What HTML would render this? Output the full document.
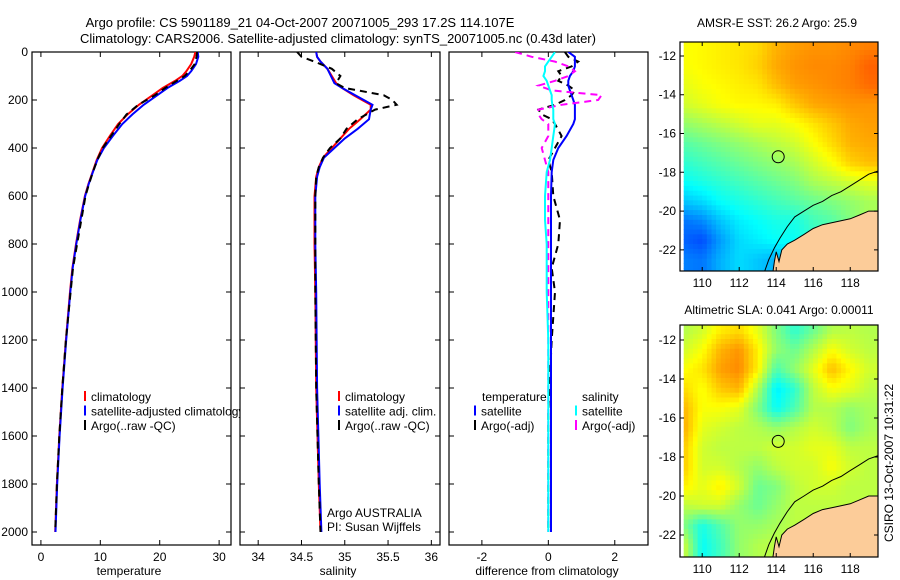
<!DOCTYPE html>
<html><head><meta charset="utf-8"><style>
body{margin:0;background:#fff}
svg{display:block;font-family:"Liberation Sans",sans-serif}
</style></head><body>
<svg id="fig" width="900" height="580" viewBox="0 0 900 580" xmlns="http://www.w3.org/2000/svg">
<defs>
<clipPath id="c1"><rect x="32" y="52" width="199" height="493"/></clipPath>
<clipPath id="c2"><rect x="240" y="52" width="200" height="493"/></clipPath>
<clipPath id="c3"><rect x="449" y="52" width="199" height="493"/></clipPath>
<clipPath id="m1"><rect x="680" y="42" width="198" height="229"/></clipPath>
<clipPath id="m2"><rect x="680" y="325" width="198" height="232"/></clipPath>
</defs>
<text x="300" y="27" font-size="13" text-anchor="middle">Argo profile: CS 5901189_21 04-Oct-2007 20071005_293 17.2S 114.107E</text>
<text x="338" y="43" font-size="13" text-anchor="middle">Climatology: CARS2006. Satellite-adjusted climatology: synTS_20071005.nc (0.43d later)</text>
<g id="g1"></g>
<g id="g2"></g>
<g id="g3"></g>
<g id="map1"></g>
<g id="map2"></g>
<text x="777" y="27" font-size="12" text-anchor="middle">AMSR-E SST: 26.2 Argo: 25.9</text>
<text x="779" y="314" font-size="12" text-anchor="middle">Altimetric SLA: 0.041 Argo: 0.00011</text>
<text x="0" y="0" font-size="12" text-anchor="middle" transform="translate(893,463) rotate(-90)">CSIRO 13-Oct-2007 10:31:22</text>
<text x="327" y="517" font-size="12">Argo AUSTRALIA</text>
<text x="327" y="531" font-size="12">PI: Susan Wijffels</text>
</svg>
<script>
const depthT=[0,20,50,80,100,120,150,180,220,260,300,350,400,450,500,550,600,700,800,900,1000,1200,1400,1600,1800,2000];
const tempClim=[26.0,25.8,25.3,24.5,23.8,22.6,20.5,18.8,16.5,14.6,13.0,11.6,10.3,9.4,8.7,8.0,7.4,6.6,5.9,5.3,4.9,4.2,3.6,3.1,2.7,2.4];
const tempSat=[26.4,26.5,26.1,25.3,24.6,23.4,21.3,19.6,17.3,15.4,13.7,12.1,10.6,9.5,8.75,8.05,7.45,6.65,5.95,5.35,4.95,4.25,3.65,3.15,2.75,2.45];
const tempArgo=[26.3,26.2,25.9,25.0,24.2,22.9,20.9,19.2,16.4,14.4,13.2,11.8,10.4,9.5,8.75,8.1,7.5,6.8,6.1,5.4,5.0,4.2,3.6,3.1,2.7,2.4];
const depthS=[0,20,40,70,100,130,150,180,200,220,240,280,320,360,400,440,480,520,600,800,1000,1400,1800,2000];
const salClim=[34.67,34.68,34.72,34.8,34.85,34.9,34.97,35.1,35.2,35.3,35.3,35.18,35.05,34.95,34.85,34.75,34.7,34.67,34.65,34.65,34.66,34.67,34.7,34.72];
const salSat=[34.67,34.68,34.72,34.8,34.84,34.88,34.97,35.12,35.22,35.32,35.3,35.28,35.15,35.0,34.88,34.76,34.71,34.68,34.66,34.66,34.67,34.68,34.71,34.73];
const salArgo=[34.45,34.5,34.65,34.85,34.95,34.9,35.0,35.45,35.55,35.6,35.35,35.15,35.02,34.95,34.83,34.75,34.7,34.67,34.66,34.66,34.66,34.67,34.7,34.72];
const depthD=[0,20,40,60,80,100,120,140,160,180,200,220,240,260,280,300,350,400,450,500,600,700,800,900,1000,1200,1500,2000];
const dTsat=[0.6,0.8,0.8,0.8,0.75,0.65,0.6,0.6,0.65,0.7,0.75,0.8,0.8,0.8,0.8,0.75,0.55,0.3,0.15,0.1,0.08,0.08,0.08,0.08,0.08,0.08,0.08,0.08];
const dTargo=[0.5,0.6,0.9,0.7,0.3,0.4,0.3,0.6,0.8,0.7,0.5,0.2,-0.3,-0.2,0.1,0.2,0.4,0.2,0.0,0.1,0.15,0.35,0.3,0.1,0.2,0.1,0.0,0.0];
const dSsat=[0.2,0.1,0.0,-0.1,-0.1,-0.15,-0.05,0.0,0.05,0.1,0.1,0.12,0.15,0.15,0.15,0.2,0.15,0.1,0.05,-0.05,-0.1,-0.1,-0.05,-0.05,-0.05,0.0,0.0,0.0];
const dSargo=[-1.0,-0.5,0.2,0.6,0.8,0.6,0.2,-0.3,0.1,1.6,1.5,0.4,-0.3,-0.3,-0.2,0.0,0.0,-0.2,-0.1,0.0,0,0,0,0,0,0,0,0];
const depthTicks=[0,200,400,600,800,1000,1200,1400,1600,1800,2000];
const tempTicks=[0,10,20,30];
const salTicks=[34,34.5,35,35.5,36];
const diffTicks=[-2,0,2];
const lonTicks=[110,112,114,116,118];
const latTicks=[-12,-14,-16,-18,-20,-22];
const gridLon=[109,110,111,112,113,114,115,116,117,118,119];
const gridLat=[-11.5,-12.5,-13.5,-14.5,-15.5,-16.5,-17.5,-18.5,-19.5,-20.5,-21.5,-22.5];
const sstGrid=[
[.62,.63,.64,.65,.66,.70,.72,.73,.73,.74,.75],
[.62,.63,.64,.65,.67,.71,.73,.74,.74,.75,.78],
[.60,.62,.63,.64,.65,.69,.72,.73,.74,.75,.77],
[.58,.60,.62,.63,.63,.64,.68,.71,.72,.73,.73],
[.52,.54,.56,.58,.60,.60,.62,.65,.68,.71,.72],
[.46,.48,.50,.52,.54,.56,.58,.62,.66,.70,.71],
[.42,.44,.46,.48,.50,.52,.54,.58,.62,.67,.69],
[.38,.40,.42,.44,.46,.48,.50,.54,.56,.58,.60],
[.32,.34,.38,.40,.42,.44,.46,.48,.50,.52,.54],
[.24,.26,.32,.36,.38,.40,.40,.44,.46,.50,.54],
[.22,.20,.28,.34,.36,.38,.38,.42,.44,.46,.50],
[.25,.24,.30,.34,.32,.30,.36,.40,.42,.44,.46]];
const slaGrid=[
[.55,.58,.64,.66,.60,.50,.42,.48,.55,.56,.55],
[.58,.62,.70,.73,.64,.52,.48,.55,.62,.58,.56],
[.62,.65,.72,.74,.64,.45,.52,.60,.69,.63,.58],
[.66,.62,.68,.70,.55,.36,.42,.56,.62,.60,.56],
[.70,.62,.62,.60,.50,.38,.45,.55,.55,.52,.54],
[.71,.60,.58,.56,.55,.52,.55,.58,.56,.50,.54],
[.68,.58,.56,.56,.56,.58,.58,.60,.60,.56,.56],
[.68,.58,.58,.55,.52,.56,.58,.58,.62,.58,.56],
[.64,.60,.64,.58,.48,.50,.56,.58,.58,.56,.56],
[.56,.58,.58,.52,.48,.52,.56,.56,.56,.56,.56],
[.50,.40,.46,.52,.52,.54,.56,.56,.56,.56,.56],
[.58,.38,.44,.52,.55,.56,.56,.56,.56,.56,.56]];
const coastLon=[113.8,113.9,114.0,114.15,114.3,114.6,115.0,115.5,116.0,116.5,117.0,117.5,118.0,118.5,119.0,119.6,119.6,113.8];
const coastLat=[-23.3,-22.6,-22.1,-22.6,-22.0,-21.7,-21.5,-21.2,-20.9,-20.7,-20.6,-20.5,-20.4,-20.2,-20.0,-20.0,-23.3,-23.3];
const shelfLon=[113.3,113.6,113.9,114.2,114.6,115.0,115.5,116.0,116.5,117.0,117.5,118.0,118.5,119.0,119.6];
const shelfLat=[-23.3,-22.5,-21.9,-21.4,-20.8,-20.3,-20.0,-19.7,-19.5,-19.2,-19.0,-18.7,-18.4,-18.1,-17.9];
const floatLon=114.107, floatLat=-17.2;

const NS='http://www.w3.org/2000/svg';
function mk(parent,tag,attrs){const e=document.createElementNS(NS,tag);for(const k in attrs)e.setAttribute(k,attrs[k]);parent.appendChild(e);return e;}
const Y0=52,Y1=545;
function yD(d){return Y0+d*0.24;}
function panel(gid,x0,x1,xmin,xmax,ticks,clip,label,labelX,showY){
  const g=document.getElementById(gid);
  const xs=v=>x0+(v-xmin)/(xmax-xmin)*(x1-x0);
  const box=mk(g,'rect',{x:x0,y:Y0,width:x1-x0,height:Y1-Y0,fill:'#fff',stroke:'#000','stroke-width':1.2});
  
  
  ticks.forEach(t=>{const x=xs(t);
    const l=mk(g,'path',{d:`M${x},${Y1}v-5M${x},${Y0}v5`,stroke:'#000'});
    
    
    const tx=mk(g,'text',{x:x,y:Y1+16,'font-size':12,'text-anchor':'middle'});tx.textContent=String(t);
    
    });
  depthTicks.forEach(d=>{const y=yD(d);
    const l=mk(g,'path',{d:`M${x0},${y}h5M${x1},${y}h-5`,stroke:'#000'});
    
    
    if(showY){const tx=mk(g,'text',{x:x0-4,y:y+4,'font-size':12,'text-anchor':'end'});tx.textContent=String(d);
      
      }});
  const lb=mk(g,'text',{x:labelX,y:575,'font-size':12,'text-anchor':'middle'});lb.textContent=label;
  
  
  const lg=mk(g,'g',{'clip-path':`url(#${clip})`});
  return {g:lg,xs};
}
function series(p,depths,vals,color,dash,name){
  const pts=vals.map((v,i)=>`${p.xs(v).toFixed(1)},${yD(depths[i]).toFixed(1)}`).join(' ');
  const a={points:pts,fill:'none',stroke:color,'stroke-width':2};
  if(dash)a['stroke-dasharray']=dash;
  const e=mk(p.g,'polyline',a);
  
  
}
function legend(g,x,y,items){items.forEach((it,i)=>{
  const m=mk(g,'rect',{x:x,y:y+i*14.5-10,width:2,height:10,fill:it[1]});
  
  
  const t=mk(g,'text',{x:x+7,y:y+i*14.5,'font-size':12});t.textContent=it[0];
  
  });}

const p1=panel('g1',32,231,-1.5,32,tempTicks,'c1','temperature',129,true);
series(p1,depthT,tempClim,'#f00',null,'temp-climatology-line');
series(p1,depthT,tempSat,'#00f',null,'temp-satellite-line');
series(p1,depthT,tempArgo,'#000','7,5','temp-argo-line');
legend(document.getElementById('g1'),84,401,[['climatology','#f00'],['satellite-adjusted climatology','#00f'],['Argo(..raw -QC)','#000']]);

const p2=panel('g2',240,440,33.79,36.1,salTicks,'c2','salinity',338,false);
series(p2,depthS,salClim,'#f00',null,'sal-climatology-line');
series(p2,depthS,salSat,'#00f',null,'sal-satellite-line');
series(p2,depthS,salArgo,'#000','7,5','sal-argo-line');
legend(document.getElementById('g2'),338,401,[['climatology','#f00'],['satellite adj. clim.','#00f'],['Argo(..raw -QC)','#000']]);

const p3=panel('g3',449,648,-2.99,3,diffTicks,'c3','difference from climatology',547,false);
series(p3,depthD,dTargo,'#000','7,5','dtemp-argo-line');
series(p3,depthD,dTsat,'#00f',null,'dtemp-satellite-line');
series(p3,depthD,dSargo,'#f0f','7,5','dsal-argo-line');
series(p3,depthD,dSsat,'#0ff',null,'dsal-satellite-line');
const g3=document.getElementById('g3');
const th=mk(g3,'text',{x:482,y:401,'font-size':12});th.textContent='temperature';


const sh=mk(g3,'text',{x:582,y:401,'font-size':12});sh.textContent='salinity';


legend(g3,474,415.5,[['satellite','#00f'],['Argo(-adj)','#000']]);
legend(g3,575,415.5,[['satellite','#0ff'],['Argo(-adj)','#f0f']]);

function jet(v){const c=x=>Math.round(255*Math.max(0,Math.min(1,x)));
  return `rgb(${c(1.5-Math.abs(4*v-3))},${c(1.5-Math.abs(4*v-2))},${c(1.5-Math.abs(4*v-1))})`;}
function interp(grid,lon,lat){
  let fi=(lon-gridLon[0]); fi=Math.max(0,Math.min(gridLon.length-1.001,fi));
  let fj=(gridLat[0]-lat); fj=Math.max(0,Math.min(gridLat.length-1.001,fj));
  const i=Math.floor(fi),j=Math.floor(fj),a=fi-i,b=fj-j;
  return grid[j][i]*(1-a)*(1-b)+grid[j][i+1]*a*(1-b)+grid[j+1][i]*(1-a)*b+grid[j+1][i+1]*a*b;}
function drawMap(gid,clip,top,bot,latTop,latBot,grid){
  const g=document.getElementById(gid);
  const L0=108.8,L1=119.5,x0=680,x1=878;
  const xs=l=>x0+(l-L0)/(L1-L0)*(x1-x0);
  const ys=l=>top+(latTop-l)/(latTop-latBot)*(bot-top);
  mk(g,'rect',{x:x0,y:top,width:x1-x0,height:bot-top,fill:'#fff'});
  const cg=mk(g,'g',{'clip-path':`url(#${clip})`});
  const step=0.25;
  for(let lat=-11.2;lat>-23.2;lat-=step){for(let lon=109.0;lon<119.5;lon+=step){
    const r=mk(cg,'rect',{x:xs(lon).toFixed(1),y:ys(lat).toFixed(1),width:(18.5*step+0.6).toFixed(1),height:(19.4*step+0.6).toFixed(1),fill:jet(interp(grid,lon+step/2,lat-step/2))});
    
    }}
  const land=mk(cg,'polygon',{points:coastLon.map((l,i)=>`${xs(l).toFixed(1)},${ys(coastLat[i]).toFixed(1)}`).join(' '),fill:'#fccc99',stroke:'#000','stroke-width':1});
  
  
  const shelf=mk(cg,'polyline',{points:shelfLon.map((l,i)=>`${xs(l).toFixed(1)},${ys(shelfLat[i]).toFixed(1)}`).join(' '),fill:'none',stroke:'#000','stroke-width':1});
  
  
  const c=mk(g,'circle',{cx:xs(floatLon),cy:ys(floatLat),r:6,fill:'none',stroke:'#000','stroke-width':1});
  
  
  const fr=mk(g,'rect',{x:x0,y:top,width:x1-x0,height:bot-top,fill:'none',stroke:'#000','stroke-width':1.2});
  
  
  lonTicks.forEach(t=>{const x=xs(t);
    const l=mk(g,'path',{d:`M${x},${bot}v-4M${x},${top}v4`,stroke:'#000'});
    
    
    const tx=mk(g,'text',{x:x,y:bot+16,'font-size':12,'text-anchor':'middle'});tx.textContent=String(t);
    
    });
  latTicks.forEach(t=>{const y=ys(t);
    const l=mk(g,'path',{d:`M${x0},${y}h4M${x1},${y}h-4`,stroke:'#000'});
    
    
    const tx=mk(g,'text',{x:x0-4,y:y+4,'font-size':12,'text-anchor':'end'});tx.textContent=String(t);
    
    });
}
drawMap('map1','m1',42,271,-11.28,-23.09,sstGrid);
drawMap('map2','m2',325,557,-11.23,-23.13,slaGrid);
</script>
</body></html>
